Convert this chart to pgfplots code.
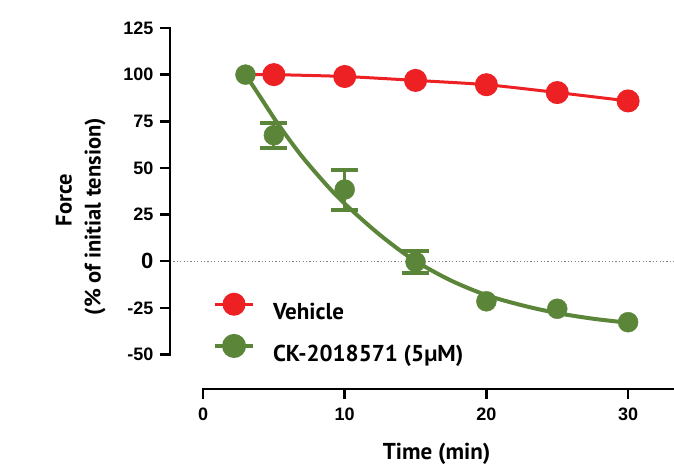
\documentclass[border=0pt]{standalone}
\usepackage{fontspec}
\setmainfont{Liberation Sans}
\newfontfamily\lab{PT Sans}
\usepackage{pgfplots}
\pgfplotsset{compat=1.18}
\definecolor{vehred}{RGB}{237,32,36}
\definecolor{ckgreen}{RGB}{91,134,57}
\definecolor{dotgray}{RGB}{128,128,128}

\begin{document}
\begin{tikzpicture}
\begin{axis}[
  scale only axis, width=504pt, height=361pt,
  xmin=-2.33, xmax=33.24, ymin=-68.5, ymax=125,
  axis lines*=left, axis line style={draw=none},
  xtick={0,10,20,30}, xticklabels={0,10,20,30},
  ytick={-50,-25,0,25,50,75,100,125},
  yticklabels={-50,-25,{\fontsize{22}{22}\selectfont 0},25,50,75,100,125},
  tick align=outside, major tick length=10pt,
  tick style={line width=2.6pt, black},
  ticklabel style={font=\bfseries\fontsize{18}{18}\selectfont},
  xticklabel style={yshift=-5pt},
  yticklabel style={xshift=-3pt},
  clip=false,
  legend cell align=left,
  legend image code/.code={
    \draw[#1, mark repeat=2, mark phase=2] plot coordinates {(0pt,7.8pt) (19pt,7.8pt) (38pt,7.8pt)};
  },
  legend style={draw=none, fill=none, inner sep=0pt,
    at={(rel axis cs:0.085,0.1676)}, anchor=west,
    nodes={inner sep=0pt},
    /tikz/every odd column/.append style={column sep=18pt},
    row sep=15pt,
    font=\lab\bfseries\fontsize{23}{26}\selectfont},
]
\addlegendimage{vehred, line width=3pt, mark=*, mark size=10pt, mark options={draw=none, fill=vehred}}
\addlegendentry{Vehicle}
\addlegendimage{ckgreen, line width=4pt, mark=*, mark size=10pt, mark options={draw=none, fill=ckgreen}}
\addlegendentry{CK-2018571 (5µM)}

% zero reference line
\addplot[forget plot, dotgray, line width=1.2pt, dash pattern=on 1.2pt off 2.2pt] coordinates {(-2.33,0) (33.24,0)};

% CK fitted curve
\addplot[forget plot, ckgreen, line width=4pt, smooth, tension=0.5] coordinates {
 (3,100) (4,88.5) (5.3,73.5) (7,56) (9,38.5) (10.4,28) (12.5,14) (14.8,1)
 (17.4,-10) (20,-18.2) (22.6,-23.8) (25,-27.8) (27.5,-30.8) (30,-33)};

% CK data with SEM
\addplot[forget plot, ckgreen, only marks, mark=*, mark size=10pt,
  mark options={draw=none, fill=ckgreen},
  error bars/.cd, y dir=both, y explicit, error mark=|,
  error bar style={line width=3pt, ckgreen},
  error mark options={line width=4pt, mark size=13.5pt, ckgreen}]
  table[x=x, y=y, y error=e] {
x y e
5 67.5 6.7
10 38.4 10.7
15 -0.4 6
};
% CK data without visible error bars
\addplot[forget plot, ckgreen, only marks, mark=*, mark size=10pt,
  mark options={draw=none, fill=ckgreen}] table[x=x, y=y] {
x y
3 100
20 -21.5
25 -25.5
30 -32.7
};

% Vehicle
\addplot[forget plot, vehred, line width=3pt, smooth, tension=0.4,
  mark=*, mark size=10pt, mark indices={2,3,4,5,6,7},
  mark options={draw=none, fill=vehred}] coordinates {
 (3,100) (5,100) (10,99) (15,96.9) (20,94.6) (25,90.4) (30,85.9)};

% axis lines
\draw[line width=2.6pt, line cap=rect] (axis cs:-2.33,-50) -- (axis cs:-2.33,125);
\draw[line width=2.6pt] (axis cs:-0.09,-68.5) -- (axis cs:33.24,-68.5);

\coordinate (O) at (rel axis cs:0,0);
\coordinate (TR) at (rel axis cs:1,1);
\end{axis}
\node[rotate=90, font=\lab\bfseries\fontsize{22.5}{26}\selectfont] at ([shift={(-106pt,189pt)}]O) {Force};
\node[rotate=90, font=\lab\bfseries\fontsize{22.5}{26}\selectfont] at ([shift={(-75pt,172.3pt)}]O) {(\% of initial tension)};
\node[anchor=base, font=\lab\bfseries\fontsize{23}{26}\selectfont] at ([shift={(266.7pt,-70.5pt)}]O) {Time (min)};
\pgfresetboundingbox
\path[use as bounding box] ([shift={(-170pt,-78pt)}]O) rectangle ([shift={(0pt,28pt)}]TR);
\end{tikzpicture}
\end{document}
